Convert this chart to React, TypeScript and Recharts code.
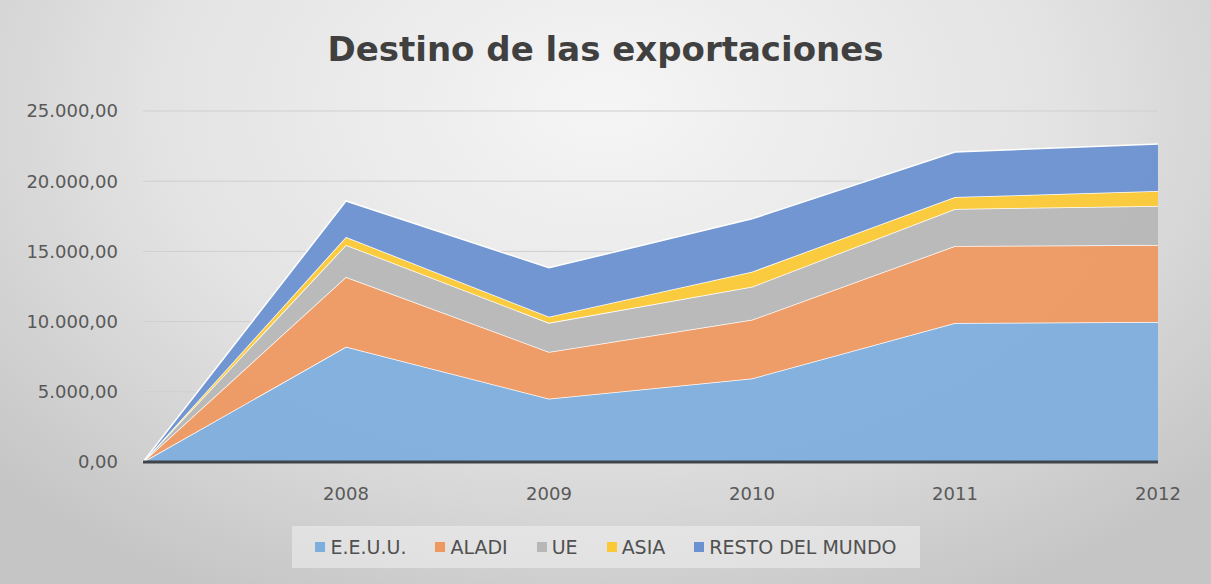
import React from 'react';
import { AreaChart, Area, XAxis, YAxis, CartesianGrid } from 'recharts';

const years = ['', '2008', '2009', '2010', '2011', '2012'];
const eeuu = [0, 8200, 4500, 5950, 9900, 9970];
const aladi = [0, 4980, 3340, 4180, 5480, 5480];
const ue = [0, 2280, 2070, 2350, 2640, 2780];
const asia = [0, 570, 430, 1070, 850, 1070];
const resto = [0, 2560, 3490, 3770, 3210, 3350];
const yTicks = [0, 5000, 10000, 15000, 20000, 25000];

const series = [
  { key: 'eeuu', name: 'E.E.U.U.', values: eeuu, color: '#7eaedd' },
  { key: 'aladi', name: 'ALADI', values: aladi, color: '#ef9961' },
  { key: 'ue', name: 'UE', values: ue, color: '#b7b7b7' },
  { key: 'asia', name: 'ASIA', values: asia, color: '#fbc935' },
  { key: 'resto', name: 'RESTO DEL MUNDO', values: resto, color: '#6b91d1' },
];

const data = years.map((year, i) => {
  const row: Record<string, string | number> = { year };
  series.forEach((s) => {
    row[s.key] = s.values[i];
  });
  return row;
});

const fmt = (v: number) => {
  const whole = Math.round(v)
    .toString()
    .replace(/\B(?=(\d{3})+(?!\d))/g, '.');
  return whole + ',00';
};

const font = '"DejaVu Sans", sans-serif';

const App = () => {
  return (
    <div
      style={{
        position: 'absolute',
        left: 0,
        top: 0,
        width: 1211,
        height: 584,
        overflow: 'hidden',
        background:
          'radial-gradient(ellipse 68% 95% at 50% 18%, #f5f5f5 0%, #e3e3e3 55%, #c5c5c5 100%)',
        fontFamily: font,
      }}
    >
      <div
        style={{
          position: 'absolute',
          left: 0,
          top: 32,
          width: 1211,
          textAlign: 'center',
          fontSize: 34,
          lineHeight: '34px',
          fontWeight: 'bold',
          color: '#404040',
        }}
      >
        Destino de las exportaciones
      </div>
      <div style={{ position: 'absolute', left: 0, top: 0 }}>
        <AreaChart
          width={1211}
          height={584}
          data={data}
          margin={{ top: 111, right: 53, left: 0, bottom: 82 }}
        >
          <CartesianGrid vertical={false} stroke="#cfcfcf" strokeWidth={1} />
          <XAxis
            dataKey="year"
            axisLine={{ stroke: '#3f4448', strokeWidth: 3 }}
            tickLine={false}
            tickSize={0}
            tickMargin={25}
            height={40}
            interval={0}
            tick={{ fill: '#595959', fontSize: 18, fontFamily: font }}
          />
          <YAxis
            width={143}
            domain={[0, 25000]}
            ticks={yTicks}
            tickFormatter={fmt}
            axisLine={false}
            tickLine={false}
            tickSize={0}
            tickMargin={25}
            tick={{ fill: '#595959', fontSize: 18, fontFamily: font }}
          />
          {series.map((s) => (
            <Area
              key={s.key}
              type="linear"
              dataKey={s.key}
              name={s.name}
              stackId="1"
              fill={s.color}
              fillOpacity={0.95}
              stroke="#ffffff"
              strokeWidth={1.5}
              isAnimationActive={false}
            />
          ))}
        </AreaChart>
      </div>
      <div
        style={{
          position: 'absolute',
          left: 292,
          top: 526,
          width: 628,
          height: 42,
          background: 'rgba(240,240,240,0.55)',
          display: 'flex',
          alignItems: 'center',
          justifyContent: 'center',
          gap: 29,
          fontSize: 19,
          color: '#505050',
        }}
      >
        {series.map((s) => (
          <div key={s.key} style={{ display: 'flex', alignItems: 'center' }}>
            <span
              style={{
                display: 'inline-block',
                width: 10,
                height: 10,
                background: s.color,
                marginRight: 5,
              }}
            />
            <span>{s.name}</span>
          </div>
        ))}
      </div>
    </div>
  );
};

export default App;
